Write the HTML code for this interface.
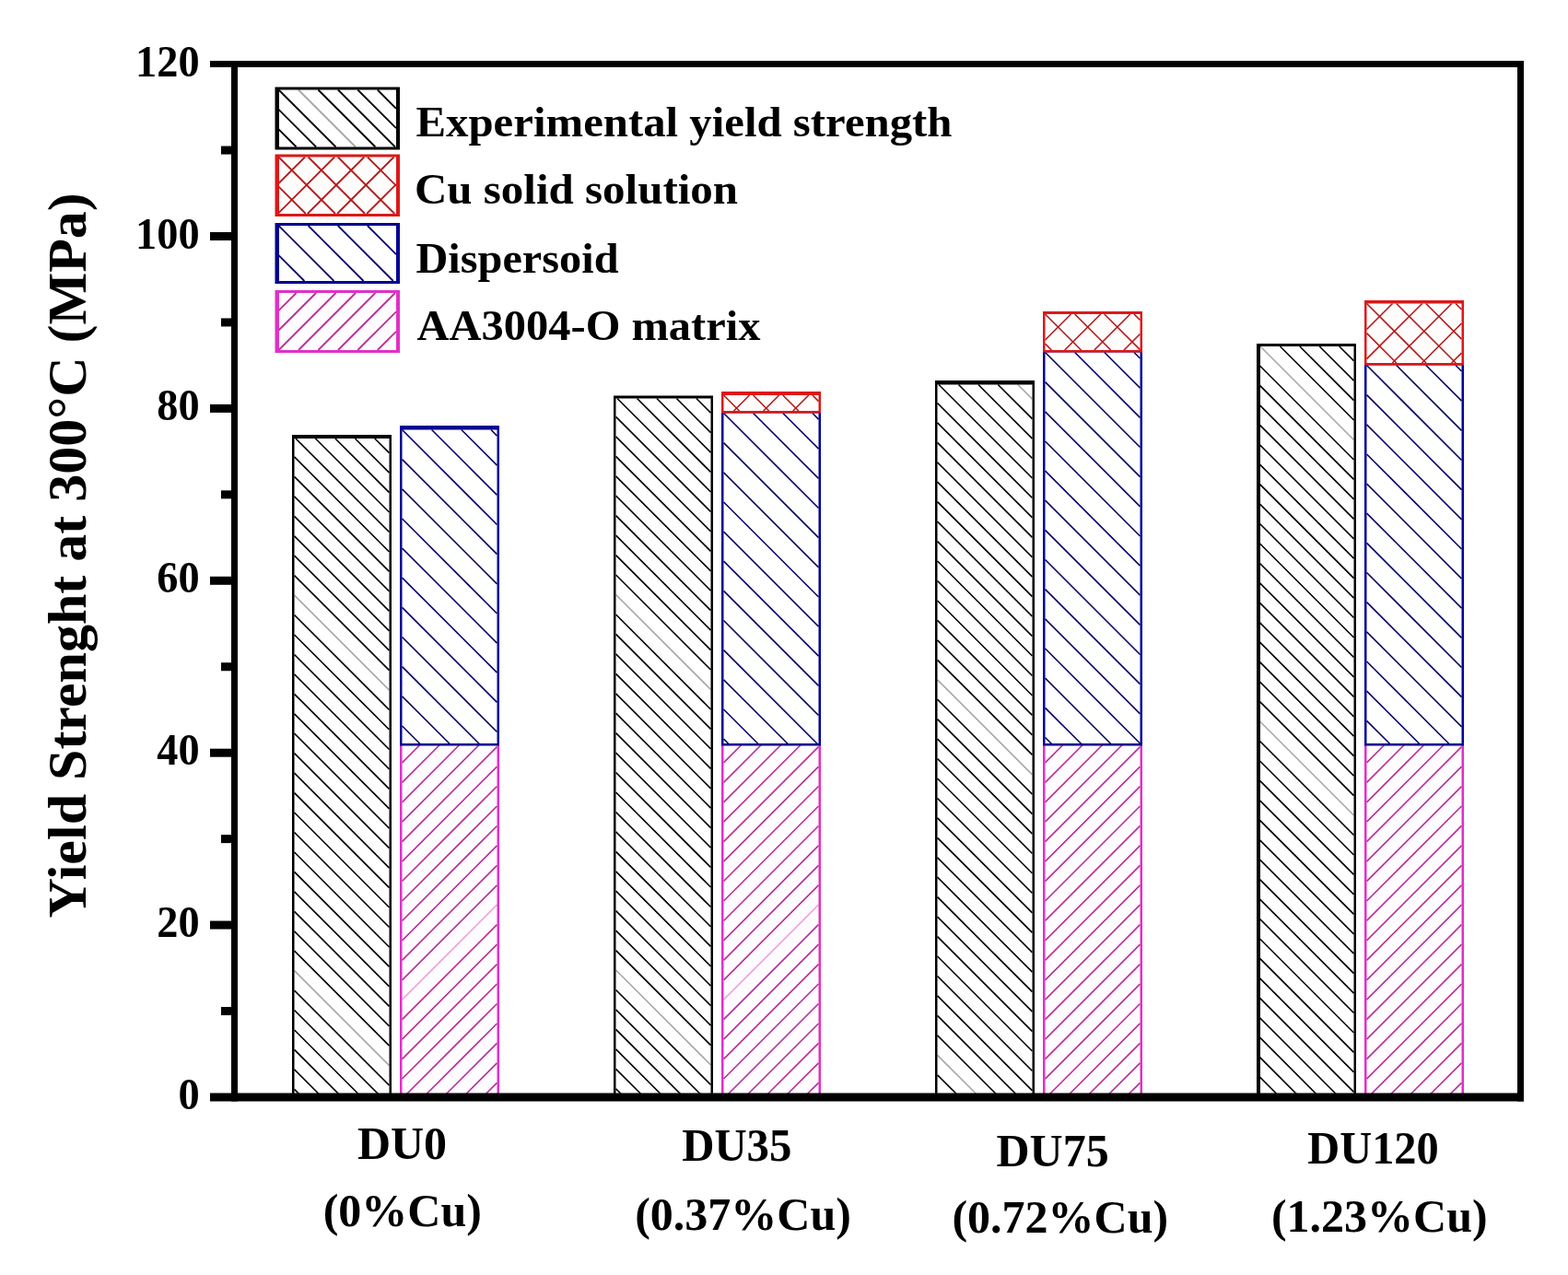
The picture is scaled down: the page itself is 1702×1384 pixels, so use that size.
<!DOCTYPE html>
<html><head><meta charset="utf-8"><title>Yield strength chart</title>
<style>html,body{margin:0;padding:0;background:#fff}body{width:1702px;height:1384px;overflow:hidden}</style></head>
<body>
<svg width="1702" height="1384" viewBox="0 0 1702 1384" style="display:block">
<rect width="1702" height="1384" fill="#fff"/>
<path d="M319.5 1182.3L328.1 1191.0M319.5 1160.9L349.6 1191.0M319.5 1139.4L371.1 1191.0M319.5 1118.0L392.5 1191.0M319.5 1096.5L414.0 1191.0M319.5 1075.1L422.5 1178.1M319.5 1032.2L422.5 1135.2M319.5 1010.8L422.5 1113.8M319.5 989.3L422.5 1092.3M319.5 967.8L422.5 1070.8M319.5 946.4L422.5 1049.4M319.5 925.0L422.5 1028.0M319.5 903.5L422.5 1006.5M319.5 882.0L422.5 985.0M319.5 860.6L422.5 963.6M319.5 839.1L422.5 942.1M319.5 817.7L422.5 920.7M319.5 796.2L422.5 899.2M319.5 774.8L422.5 877.8M319.5 753.3L422.5 856.3M319.5 731.9L422.5 834.9M319.5 710.5L422.5 813.5M319.5 689.0L422.5 792.0M319.5 667.5L422.5 770.5M319.5 624.6L422.5 727.6M319.5 603.2L422.5 706.2M319.5 581.8L422.5 684.8M319.5 560.3L422.5 663.3M319.5 538.9L422.5 641.9M319.5 517.4L422.5 620.4M319.5 495.9L422.5 599.0M321.0 476.0L422.5 577.5M342.4 476.0L422.5 556.0M363.9 476.0L422.5 534.6M385.4 476.0L422.5 513.1M406.8 476.0L422.5 491.7" stroke="#000000" stroke-width="1.65" fill="none"/>
<path d="M319.5 1053.7L422.5 1156.7M319.5 646.1L422.5 749.1" stroke="#a8a8a8" stroke-width="1.65" fill="none"/>
<path fill="#000000" d="M317 472H425V1191H317ZM319.5 476V1191H422.5V476Z" fill-rule="evenodd"/>
<rect x="434" y="807" width="108" height="384" fill="#fffcff"/>
<path d="M436.5 827.8L456.3 808.0M436.5 849.3L477.8 808.0M436.5 870.8L499.2 808.0M436.5 892.2L520.7 808.0M436.5 913.7L539.5 810.7M436.5 935.1L539.5 832.1M436.5 956.5L539.5 853.5M436.5 978.0L539.5 875.0M436.5 999.5L539.5 896.5M436.5 1020.9L539.5 917.9M436.5 1042.3L539.5 939.3M436.5 1063.8L539.5 960.8M436.5 1106.7L539.5 1003.7M436.5 1128.2L539.5 1025.2M436.5 1149.6L539.5 1046.6M436.5 1171.0L539.5 1068.0M438.0 1191.0L539.5 1089.5M459.5 1191.0L539.5 1111.0M480.9 1191.0L539.5 1132.4M502.3 1191.0L539.5 1153.8M523.8 1191.0L539.5 1175.3" stroke="#b83098" stroke-width="1.65" fill="none"/>
<path d="M436.5 1085.2L539.5 982.2" stroke="#eca4dc" stroke-width="1.65" fill="none"/>
<path fill="#e030c8" d="M434 807H542V1191H434ZM436.5 807V1191H539.5V807Z" fill-rule="evenodd"/>
<rect x="434" y="462" width="108" height="346" fill="#ffffff"/>
<path d="M436.5 788.0L456.5 808.0M436.5 755.8L488.7 808.0M436.5 723.7L520.8 808.0M436.5 691.5L539.5 794.5M436.5 659.4L539.5 762.4M436.5 627.2L539.5 730.2M436.5 595.1L539.5 698.1M436.5 563.0L539.5 666.0M436.5 530.8L539.5 633.8M436.5 498.6L539.5 601.6M436.5 466.5L539.5 569.5M468.6 466.5L539.5 537.4M500.8 466.5L539.5 505.2M533.0 466.5L539.5 473.1" stroke="#080868" stroke-width="1.65" fill="none"/>
<path fill="#000094" d="M434 462H542V809.5H434ZM436.5 466.5V807.0H539.5V466.5Z" fill-rule="evenodd"/>
<path d="M668.5 1181.8L677.8 1191.0M668.5 1160.3L699.2 1191.0M668.5 1138.8L720.6 1191.0M668.5 1117.4L742.1 1191.0M668.5 1095.9L763.6 1191.0M668.5 1074.5L771.5 1177.5M668.5 1031.6L771.5 1134.6M668.5 1010.1L771.5 1113.2M668.5 988.7L771.5 1091.7M668.5 967.2L771.5 1070.2M668.5 945.8L771.5 1048.8M668.5 924.3L771.5 1027.3M668.5 902.9L771.5 1005.9M668.5 881.5L771.5 984.5M668.5 860.0L771.5 963.0M668.5 838.5L771.5 941.5M668.5 817.1L771.5 920.1M668.5 795.6L771.5 898.6M668.5 774.2L771.5 877.2M668.5 752.8L771.5 855.8M668.5 731.3L771.5 834.3M668.5 709.8L771.5 812.8M668.5 688.4L771.5 791.4M668.5 667.0L771.5 770.0M668.5 624.0L771.5 727.0M668.5 602.6L771.5 705.6M668.5 581.1L771.5 684.1M668.5 559.7L771.5 662.7M668.5 538.2L771.5 641.2M668.5 516.8L771.5 619.8M668.5 495.4L771.5 598.4M668.5 473.9L771.5 576.9M668.5 452.4L771.5 555.5M670.0 432.5L771.5 534.0M691.5 432.5L771.5 512.5M712.9 432.5L771.5 491.1M734.4 432.5L771.5 469.6M755.8 432.5L771.5 448.2" stroke="#000000" stroke-width="1.65" fill="none"/>
<path d="M668.5 1053.0L771.5 1156.0M668.5 645.5L771.5 748.5" stroke="#a8a8a8" stroke-width="1.65" fill="none"/>
<path fill="#000000" d="M666 429.5H774V1191H666ZM668.5 432.5V1191H771.5V432.5Z" fill-rule="evenodd"/>
<rect x="783" y="807" width="108" height="384" fill="#fffcff"/>
<path d="M785.5 827.8L805.3 808.0M785.5 849.3L826.8 808.0M785.5 870.8L848.2 808.0M785.5 892.2L869.7 808.0M785.5 913.7L888.5 810.7M785.5 935.1L888.5 832.1M785.5 956.5L888.5 853.5M785.5 978.0L888.5 875.0M785.5 999.5L888.5 896.5M785.5 1020.9L888.5 917.9M785.5 1042.3L888.5 939.3M785.5 1063.8L888.5 960.8M785.5 1106.7L888.5 1003.7M785.5 1128.2L888.5 1025.2M785.5 1149.6L888.5 1046.6M785.5 1171.0L888.5 1068.0M787.0 1191.0L888.5 1089.5M808.5 1191.0L888.5 1111.0M829.9 1191.0L888.5 1132.4M851.3 1191.0L888.5 1153.8M872.8 1191.0L888.5 1175.3" stroke="#b83098" stroke-width="1.65" fill="none"/>
<path d="M785.5 1085.2L888.5 982.2" stroke="#eca4dc" stroke-width="1.65" fill="none"/>
<path fill="#e030c8" d="M783 807H891V1191H783ZM785.5 807V1191H888.5V807Z" fill-rule="evenodd"/>
<rect x="783" y="446" width="108" height="362" fill="#ffffff"/>
<path d="M785.5 802.1L791.4 808.0M785.5 770.0L823.5 808.0M785.5 737.8L855.7 808.0M785.5 705.7L887.8 808.0M785.5 673.5L888.5 776.5M785.5 641.4L888.5 744.4M785.5 609.2L888.5 712.2M785.5 577.1L888.5 680.1M785.5 545.0L888.5 648.0M785.5 512.8L888.5 615.8M785.5 480.6L888.5 583.6M785.5 448.5L888.5 551.5M817.6 448.5L888.5 519.4M849.8 448.5L888.5 487.2M882.0 448.5L888.5 455.1" stroke="#080868" stroke-width="1.65" fill="none"/>
<path fill="#000094" d="M783 446H891V809.5H783ZM785.5 448.5V807.0H888.5V448.5Z" fill-rule="evenodd"/>
<rect x="783" y="425" width="108" height="21" fill="#fffcfc"/>
<path d="M785.5 429.0L802.5 446.0M817.6 429.0L834.6 446.0M849.8 429.0L866.8 446.0M882.0 429.0L888.5 435.6" stroke="#b41c1c" stroke-width="1.65" fill="none"/>
<path d="M796.5 446.0L813.5 429.0M828.7 446.0L845.7 429.0M860.8 446.0L877.8 429.0" stroke="#b41c1c" stroke-width="1.65" fill="none"/>
<path fill="#dc1818" d="M783 425H891V448.5H783ZM785.5 429V446.0H888.5V429Z" fill-rule="evenodd"/>
<path d="M1017.5 1188.2L1020.3 1191.0M1017.5 1166.8L1041.8 1191.0M1017.5 1123.8L1084.7 1191.0M1017.5 1102.4L1106.1 1191.0M1017.5 1080.9L1120.5 1183.9M1017.5 1059.5L1120.5 1162.5M1017.5 1038.0L1120.5 1141.0M1017.5 1016.6L1120.5 1119.6M1017.5 995.1L1120.5 1098.2M1017.5 973.7L1120.5 1076.7M1017.5 952.2L1120.5 1055.2M1017.5 930.8L1120.5 1033.8M1017.5 909.3L1120.5 1012.3M1017.5 887.9L1120.5 990.9M1017.5 866.5L1120.5 969.5M1017.5 845.0L1120.5 948.0M1017.5 823.5L1120.5 926.5M1017.5 802.1L1120.5 905.1M1017.5 780.6L1120.5 883.6M1017.5 759.2L1120.5 862.2M1017.5 716.3L1120.5 819.3M1017.5 694.8L1120.5 797.8M1017.5 673.4L1120.5 776.4M1017.5 652.0L1120.5 755.0M1017.5 630.5L1120.5 733.5M1017.5 609.0L1120.5 712.0M1017.5 587.6L1120.5 690.6M1017.5 566.1L1120.5 669.1M1017.5 544.7L1120.5 647.7M1017.5 523.2L1120.5 626.2M1017.5 501.8L1120.5 604.8M1017.5 480.4L1120.5 583.4M1017.5 458.9L1120.5 561.9M1017.5 437.5L1120.5 540.5M1019.0 417.5L1120.5 519.0M1040.5 417.5L1120.5 497.5M1061.9 417.5L1120.5 476.1M1083.3 417.5L1120.5 454.6" stroke="#000000" stroke-width="1.65" fill="none"/>
<path d="M1017.5 1145.3L1063.2 1191.0M1017.5 737.8L1120.5 840.8M1104.8 417.5L1120.5 433.2" stroke="#a8a8a8" stroke-width="1.65" fill="none"/>
<path fill="#000000" d="M1015 413H1123V1191H1015ZM1017.5 417.5V1191H1120.5V417.5Z" fill-rule="evenodd"/>
<rect x="1132" y="807" width="108" height="384" fill="#fffcff"/>
<path d="M1134.5 827.8L1154.3 808.0M1134.5 849.3L1175.8 808.0M1134.5 870.8L1197.2 808.0M1134.5 892.2L1218.7 808.0M1134.5 913.7L1237.5 810.7M1134.5 935.1L1237.5 832.1M1134.5 956.6L1237.5 853.6M1134.5 978.0L1237.5 875.0M1134.5 999.4L1237.5 896.4M1134.5 1020.9L1237.5 917.9M1134.5 1042.3L1237.5 939.3M1134.5 1063.8L1237.5 960.8M1134.5 1085.2L1237.5 982.2M1134.5 1106.7L1237.5 1003.7M1134.5 1128.2L1237.5 1025.2M1134.5 1149.6L1237.5 1046.6M1134.5 1171.1L1237.5 1068.1M1136.0 1191.0L1237.5 1089.5M1157.4 1191.0L1237.5 1110.9M1178.9 1191.0L1237.5 1132.4M1200.3 1191.0L1237.5 1153.8M1221.8 1191.0L1237.5 1175.3" stroke="#b83098" stroke-width="1.65" fill="none"/>
<path fill="#e030c8" d="M1132 807H1240V1191H1132ZM1134.5 807V1191H1237.5V807Z" fill-rule="evenodd"/>
<rect x="1132" y="380" width="108" height="428" fill="#ffffff"/>
<path d="M1134.5 800.5L1142.0 808.0M1134.5 768.3L1174.2 808.0M1134.5 736.1L1206.3 808.0M1134.5 704.0L1237.5 807.0M1134.5 671.8L1237.5 774.8M1134.5 639.7L1237.5 742.7M1134.5 607.5L1237.5 710.5M1134.5 575.4L1237.5 678.4M1134.5 543.2L1237.5 646.2M1134.5 511.1L1237.5 614.1M1134.5 479.0L1237.5 582.0M1134.5 446.8L1237.5 549.8M1134.5 414.6L1237.5 517.6M1134.5 382.5L1237.5 485.5M1166.7 382.5L1237.5 453.4M1198.8 382.5L1237.5 421.2M1231.0 382.5L1237.5 389.0" stroke="#080868" stroke-width="1.65" fill="none"/>
<path fill="#000094" d="M1132 380H1240V809.5H1132ZM1134.5 382.5V807.0H1237.5V382.5Z" fill-rule="evenodd"/>
<rect x="1132" y="338" width="108" height="42" fill="#fffcfc"/>
<path d="M1134.5 373.1L1141.3 380.0M1134.5 341.0L1173.5 380.0M1166.7 341.0L1205.7 380.0M1198.8 341.0L1237.5 379.7M1231.0 341.0L1237.5 347.5" stroke="#b41c1c" stroke-width="1.65" fill="none"/>
<path d="M1134.5 369.0L1162.5 341.0M1155.7 380.0L1194.7 341.0M1187.8 380.0L1226.8 341.0M1220.0 380.0L1237.5 362.5" stroke="#b41c1c" stroke-width="1.65" fill="none"/>
<path fill="#dc1818" d="M1132 338H1240V382.5H1132ZM1134.5 341V380.0H1237.5V341Z" fill-rule="evenodd"/>
<path d="M1366.5 1168.2L1389.3 1191.0M1366.5 1146.7L1410.8 1191.0M1366.5 1125.2L1432.2 1191.0M1366.5 1103.8L1453.7 1191.0M1366.5 1082.3L1469.5 1185.3M1366.5 1060.9L1469.5 1163.9M1366.5 1039.4L1469.5 1142.4M1366.5 1018.0L1469.5 1121.0M1366.5 996.5L1469.5 1099.5M1366.5 975.1L1469.5 1078.1M1366.5 953.6L1469.5 1056.7M1366.5 932.2L1469.5 1035.2M1366.5 910.8L1469.5 1013.8M1366.5 889.3L1469.5 992.3M1366.5 867.8L1469.5 970.8M1366.5 846.4L1469.5 949.4M1366.5 825.0L1469.5 928.0M1366.5 803.5L1469.5 906.5M1366.5 760.6L1469.5 863.6M1366.5 739.1L1469.5 842.1M1366.5 717.7L1469.5 820.7M1366.5 696.2L1469.5 799.2M1366.5 674.8L1469.5 777.8M1366.5 653.3L1469.5 756.3M1366.5 631.9L1469.5 734.9M1366.5 610.5L1469.5 713.5M1366.5 589.0L1469.5 692.0M1366.5 567.5L1469.5 670.5M1366.5 546.1L1469.5 649.1M1366.5 524.6L1469.5 627.6M1366.5 503.2L1469.5 606.2M1366.5 481.8L1469.5 584.8M1366.5 460.3L1469.5 563.3M1366.5 438.9L1469.5 541.9M1366.5 417.4L1469.5 520.4M1366.5 396.0L1469.5 499.0M1389.5 376.0L1469.5 456.0M1410.9 376.0L1469.5 434.6M1432.3 376.0L1469.5 413.2M1453.8 376.0L1469.5 391.7" stroke="#000000" stroke-width="1.65" fill="none"/>
<path d="M1366.5 1189.6L1367.9 1191.0M1366.5 782.0L1469.5 885.0M1368.0 376.0L1469.5 477.5" stroke="#a8a8a8" stroke-width="1.65" fill="none"/>
<path fill="#000000" d="M1364 373H1472V1191H1364ZM1368 376V1191H1469.5V376Z" fill-rule="evenodd"/>
<rect x="1481" y="807" width="108" height="384" fill="#fffcff"/>
<path d="M1483.5 827.8L1503.3 808.0M1483.5 849.3L1524.8 808.0M1483.5 870.8L1546.2 808.0M1483.5 892.2L1567.7 808.0M1483.5 913.7L1586.5 810.7M1483.5 935.1L1586.5 832.1M1483.5 956.6L1586.5 853.6M1483.5 978.0L1586.5 875.0M1483.5 999.4L1586.5 896.4M1483.5 1020.9L1586.5 917.9M1483.5 1042.3L1586.5 939.3M1483.5 1063.8L1586.5 960.8M1483.5 1085.2L1586.5 982.2M1483.5 1106.7L1586.5 1003.7M1483.5 1128.2L1586.5 1025.2M1483.5 1149.6L1586.5 1046.6M1483.5 1171.1L1586.5 1068.1M1485.0 1191.0L1586.5 1089.5M1506.4 1191.0L1586.5 1110.9M1527.9 1191.0L1586.5 1132.4M1549.3 1191.0L1586.5 1153.8M1570.8 1191.0L1586.5 1175.3" stroke="#b83098" stroke-width="1.65" fill="none"/>
<path fill="#e030c8" d="M1481 807H1589V1191H1481ZM1483.5 807V1191H1586.5V807Z" fill-rule="evenodd"/>
<rect x="1481" y="394" width="108" height="414" fill="#ffffff"/>
<path d="M1483.5 782.3L1509.2 808.0M1483.5 750.1L1541.3 808.0M1483.5 718.0L1573.5 808.0M1483.5 685.8L1586.5 788.8M1483.5 653.7L1586.5 756.7M1483.5 621.5L1586.5 724.5M1483.5 589.4L1586.5 692.4M1483.5 557.2L1586.5 660.2M1483.5 525.1L1586.5 628.1M1483.5 493.0L1586.5 596.0M1483.5 460.8L1586.5 563.8M1483.5 428.7L1586.5 531.7M1483.5 396.5L1586.5 499.5M1515.7 396.5L1586.5 467.3M1547.8 396.5L1586.5 435.2M1580.0 396.5L1586.5 403.0" stroke="#080868" stroke-width="1.65" fill="none"/>
<path fill="#000094" d="M1481 394H1589V809.5H1481ZM1483.5 396.5V807.0H1586.5V396.5Z" fill-rule="evenodd"/>
<rect x="1481" y="326" width="108" height="68" fill="#fffcfc"/>
<path d="M1483.5 361.7L1515.8 394.0M1483.5 329.5L1548.0 394.0M1515.7 329.5L1580.2 394.0M1547.8 329.5L1586.5 368.2M1580.0 329.5L1586.5 336.0" stroke="#b41c1c" stroke-width="1.65" fill="none"/>
<path d="M1483.5 357.5L1511.5 329.5M1483.5 389.7L1543.7 329.5M1511.3 394.0L1575.8 329.5M1543.5 394.0L1586.5 351.0M1575.6 394.0L1586.5 383.1" stroke="#b41c1c" stroke-width="1.65" fill="none"/>
<path fill="#dc1818" d="M1481 326H1589V396.5H1481ZM1483.5 329.5V394.0H1586.5V329.5Z" fill-rule="evenodd"/>
<rect x="298.5" y="94.5" width="135.5" height="68.0" fill="#ffffff"/>
<path d="M302.5 140.4L321.6 159.5M302.5 118.9L343.1 159.5M302.5 97.5L364.5 159.5M345.4 97.5L407.4 159.5M366.9 97.5L428.9 159.5M388.3 97.5L430.0 139.2M409.8 97.5L430.0 117.8" stroke="#000000" stroke-width="1.8" fill="none"/>
<path d="M323.9 97.5L385.9 159.5" stroke="#a8a8a8" stroke-width="1.8" fill="none"/>
<path fill="#000000" d="M298.5 94.5H434V162.5H298.5ZM303.0 97.5V159.5H430V97.5Z" fill-rule="evenodd"/>
<rect x="298.5" y="167.5" width="135.5" height="67.5" fill="#fffcfc"/>
<path d="M302.5 202.7L331.9 232.0M302.5 170.5L364.0 232.0M334.6 170.5L396.1 232.0M366.8 170.5L428.3 232.0M398.9 170.5L430.0 201.6" stroke="#b41c1c" stroke-width="1.8" fill="none"/>
<path d="M302.5 199.0L331.0 170.5M302.5 231.1L363.1 170.5M333.8 232.0L395.3 170.5M366.0 232.0L427.5 170.5M398.1 232.0L430.0 200.1" stroke="#b41c1c" stroke-width="1.8" fill="none"/>
<path fill="#dc1818" d="M298.5 167.5H434V235H298.5ZM303.0 170.5V232H430V170.5Z" fill-rule="evenodd"/>
<rect x="298.5" y="242" width="135.5" height="66" fill="#ffffff"/>
<path d="M302.5 277.1L330.4 305.0M302.5 245.0L362.5 305.0M334.6 245.0L394.6 305.0M366.8 245.0L426.8 305.0M398.9 245.0L430.0 276.1" stroke="#080868" stroke-width="1.8" fill="none"/>
<path fill="#000094" d="M298.5 242H434V308H298.5ZM303.0 245V305H430V245Z" fill-rule="evenodd"/>
<rect x="298.5" y="315" width="135.5" height="68" fill="#fffcff"/>
<path d="M302.5 337.1L321.6 318.0M302.5 358.5L343.0 318.0M302.5 380.0L364.5 318.0M324.0 380.0L386.0 318.0M345.4 380.0L407.4 318.0M366.9 380.0L428.9 318.0M388.3 380.0L430.0 338.3M409.8 380.0L430.0 359.8" stroke="#b83098" stroke-width="1.8" fill="none"/>
<path fill="#e030c8" d="M298.5 315H434V383H298.5ZM303.0 318V380H430V318Z" fill-rule="evenodd"/>
<rect x="251" y="66" width="7" height="1129.5" fill="#000"/>
<rect x="1647" y="66" width="7" height="1129.5" fill="#000"/>
<rect x="228" y="66" width="1426" height="7" fill="#000"/>
<rect x="228" y="1186.5" width="1426" height="9" fill="#000"/>
<rect x="240" y="1093.05" width="12" height="9" fill="#000"/>
<rect x="228" y="999.6" width="24" height="9" fill="#000"/>
<rect x="240" y="906.15" width="12" height="9" fill="#000"/>
<rect x="228" y="812.7" width="24" height="9" fill="#000"/>
<rect x="240" y="719.25" width="12" height="9" fill="#000"/>
<rect x="228" y="625.8" width="24" height="9" fill="#000"/>
<rect x="240" y="532.3499999999999" width="12" height="9" fill="#000"/>
<rect x="228" y="438.9" width="24" height="9" fill="#000"/>
<rect x="240" y="345.44999999999993" width="12" height="9" fill="#000"/>
<rect x="228" y="251.9999999999999" width="24" height="9" fill="#000"/>
<rect x="240" y="158.54999999999995" width="12" height="9" fill="#000"/>
<text x="216.6" y="1204.0" font-size="48" text-anchor="end" font-family="'Liberation Serif', serif" font-weight="bold" fill="#000" textLength="23.2" lengthAdjust="spacingAndGlyphs">0</text>
<text x="216.6" y="1017.1" font-size="48" text-anchor="end" font-family="'Liberation Serif', serif" font-weight="bold" fill="#000" textLength="46.3" lengthAdjust="spacingAndGlyphs">20</text>
<text x="216.6" y="830.2" font-size="48" text-anchor="end" font-family="'Liberation Serif', serif" font-weight="bold" fill="#000" textLength="46.3" lengthAdjust="spacingAndGlyphs">40</text>
<text x="216.6" y="643.3" font-size="48" text-anchor="end" font-family="'Liberation Serif', serif" font-weight="bold" fill="#000" textLength="46.3" lengthAdjust="spacingAndGlyphs">60</text>
<text x="216.6" y="456.4" font-size="48" text-anchor="end" font-family="'Liberation Serif', serif" font-weight="bold" fill="#000" textLength="46.3" lengthAdjust="spacingAndGlyphs">80</text>
<text x="216.6" y="269.4999999999999" font-size="48" text-anchor="end" font-family="'Liberation Serif', serif" font-weight="bold" fill="#000" textLength="69.5" lengthAdjust="spacingAndGlyphs">100</text>
<text x="216.6" y="82.59999999999991" font-size="48" text-anchor="end" font-family="'Liberation Serif', serif" font-weight="bold" fill="#000" textLength="69.5" lengthAdjust="spacingAndGlyphs">120</text>
<text x="451.5" y="147.6" font-size="47" text-anchor="start" font-family="'Liberation Serif', serif" font-weight="bold" fill="#000" textLength="582" lengthAdjust="spacingAndGlyphs">Experimental yield strength</text>
<text x="450" y="221" font-size="47" text-anchor="start" font-family="'Liberation Serif', serif" font-weight="bold" fill="#000" textLength="351" lengthAdjust="spacingAndGlyphs">Cu solid solution</text>
<text x="451.5" y="295.8" font-size="47" text-anchor="start" font-family="'Liberation Serif', serif" font-weight="bold" fill="#000" textLength="220" lengthAdjust="spacingAndGlyphs">Dispersoid</text>
<text x="452.5" y="368.7" font-size="47" text-anchor="start" font-family="'Liberation Serif', serif" font-weight="bold" fill="#000" textLength="373" lengthAdjust="spacingAndGlyphs">AA3004-O matrix</text>
<text x="436.5" y="1258.3" font-size="50" text-anchor="middle" font-family="'Liberation Serif', serif" font-weight="bold" fill="#000">DU0</text>
<text x="436.8" y="1331" font-size="50" text-anchor="middle" font-family="'Liberation Serif', serif" font-weight="bold" fill="#000">(0%Cu)</text>
<text x="799.8" y="1260" font-size="50" text-anchor="middle" font-family="'Liberation Serif', serif" font-weight="bold" fill="#000" textLength="119.2" lengthAdjust="spacingAndGlyphs">DU35</text>
<text x="806.5" y="1334.8" font-size="50" text-anchor="middle" font-family="'Liberation Serif', serif" font-weight="bold" fill="#000">(0.37%Cu)</text>
<text x="1142.6" y="1265.6" font-size="50" text-anchor="middle" font-family="'Liberation Serif', serif" font-weight="bold" fill="#000">DU75</text>
<text x="1150.8" y="1338.4" font-size="50" text-anchor="middle" font-family="'Liberation Serif', serif" font-weight="bold" fill="#000">(0.72%Cu)</text>
<text x="1490.5" y="1263" font-size="50" text-anchor="middle" font-family="'Liberation Serif', serif" font-weight="bold" fill="#000" textLength="142.5" lengthAdjust="spacingAndGlyphs">DU120</text>
<text x="1497.3" y="1336.6" font-size="50" text-anchor="middle" font-family="'Liberation Serif', serif" font-weight="bold" fill="#000">(1.23%Cu)</text>
<text transform="translate(93.3,602.8) rotate(-90)" font-size="60" text-anchor="middle" font-family="'Liberation Serif', serif" font-weight="bold" fill="#000">Yield Strenght at 300°C (MPa)</text>
</svg>
</body></html>
